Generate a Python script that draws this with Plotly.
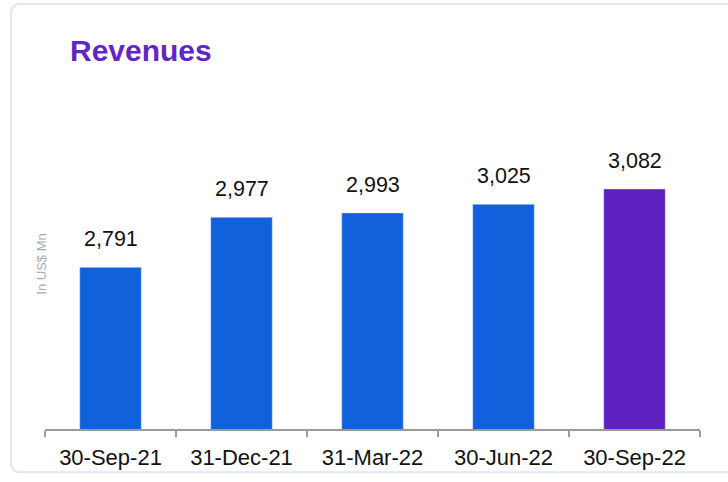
import plotly.graph_objects as go

categories = ["30-Sep-21", "31-Dec-21", "31-Mar-22", "30-Jun-22", "30-Sep-22"]
revenues = [2791, 2977, 2993, 3025, 3082]
value_labels = ["2,791", "2,977", "2,993", "3,025", "3,082"]

BLUE = "#1160dc"
PURPLE = "#5e20bf"
bar_colors = [BLUE] * (len(categories) - 1) + [PURPLE]

W, H = 728, 482
L, R, T, B = 45, 28, 62, 46
pw, ph = W - L - R, H - T - B

def px_to_paper_x(px):
    return (px - L) / pw

def px_to_paper_y(py):
    return (H - B - py) / ph

fig = go.Figure()
fig.add_trace(go.Bar(
    x=categories, y=revenues, marker_color=bar_colors,
    width=0.47, hoverinfo="skip",
))

for c, v, t in zip(categories, revenues, value_labels):
    fig.add_annotation(x=c, y=v, text=t, showarrow=False, yanchor="middle",
                       yshift=28, font=dict(family="Liberation Sans, Arial", size=21.5, color="#111111"))

fig.add_annotation(x=px_to_paper_x(32), y=px_to_paper_y(268), xref="paper", yref="paper",
                   text="In US$ Mn", textangle=-90, showarrow=False,
                   font=dict(family="Liberation Sans, Arial", size=13, color="#a3acbb"))

# rounded border
x0, x1 = px_to_paper_x(11), px_to_paper_x(740)
y0, y1 = px_to_paper_y(480), px_to_paper_y(3)
rx, ry = 10 / pw, 10 / ph
path = (f"M {x0+rx},{y1} L {x1-rx},{y1} Q {x1},{y1} {x1},{y1-ry} L {x1},{y0+ry} "
        f"Q {x1},{y0} {x1-rx},{y0} L {x0+rx},{y0} Q {x0},{y0} {x0},{y0+ry} "
        f"L {x0},{y1-ry} Q {x0},{y1} {x0+rx},{y1} Z")
fig.add_shape(type="path", path=path, xref="paper", yref="paper",
              line=dict(color="#dfe7f1", width=2), layer="below")

fig.update_layout(
    width=W, height=H,
    margin=dict(l=L, r=R, t=T, b=B),
    paper_bgcolor="white", plot_bgcolor="white",
    showlegend=False,
    title=dict(text="<b>Revenues</b>", xref="container", yref="container",
               x=70 / W, xanchor="left", y=1 - 50 / H, yanchor="middle",
               font=dict(family="Liberation Sans, Arial", size=30, color="#6326c4")),
    xaxis=dict(showline=True, linecolor="#9a9a9a", linewidth=2,
               ticks="outside", tickson="boundaries", ticklen=6, tickcolor="#9a9a9a", tickwidth=2,
               ticklabelstandoff=8,
               tickfont=dict(family="Liberation Sans, Arial", size=22, color="#111111"),
               showgrid=False, zeroline=False),
    yaxis=dict(range=[2191, 3553], visible=False, showgrid=False, zeroline=False),
)

fig.write_html("out.html", config={"displayModeBar": False},
               post_script="document.body.style.margin='0';document.body.style.overflow='hidden';")
